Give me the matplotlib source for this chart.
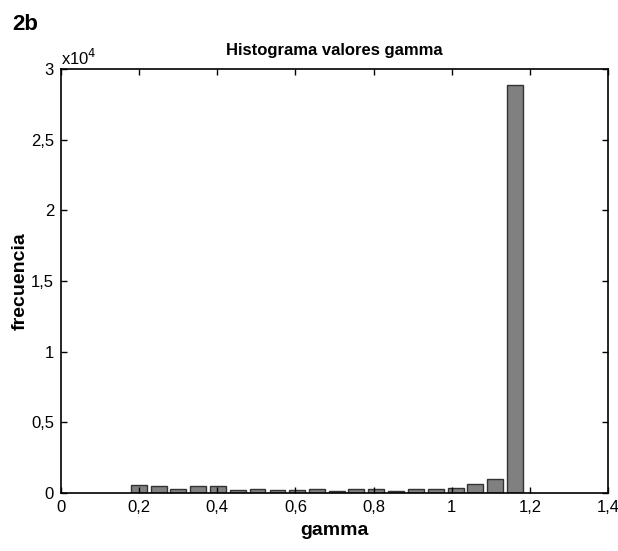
import matplotlib
matplotlib.use('Agg')
import matplotlib.pyplot as plt
from matplotlib.ticker import FuncFormatter

plt.rcParams['font.family'] = ['Liberation Sans', 'DejaVu Sans']

# centros de las clases del histograma (gamma) y frecuencias
gamma_centros = [0.199, 0.250, 0.300, 0.351, 0.402, 0.452, 0.503, 0.554, 0.604, 0.655,
                 0.706, 0.756, 0.807, 0.858, 0.908, 0.959, 1.010, 1.060, 1.111, 1.162]
frecuencia = [590, 495, 283, 519, 519, 236, 283, 236, 212, 270,
              175, 260, 307, 165, 260, 307, 354, 637, 991, 28900]
ancho_clase = 0.0507

x_ticks = [0, 0.2, 0.4, 0.6, 0.8, 1.0, 1.2, 1.4]
y_ticks = [0, 5000, 10000, 15000, 20000, 25000, 30000]


def coma(v, pos=None):
    s = ('%.2f' % v).rstrip('0').rstrip('.')
    return s.replace('.', ',')


fig = plt.figure(figsize=(6.18, 5.51), dpi=100)
ax = fig.add_axes([0.0987, 0.1053, 0.8851, 0.7695])

ax.bar(gamma_centros, frecuencia, width=ancho_clase * 0.8, color='#808080',
       edgecolor='#333333', linewidth=1.0)

ax.set_xlim(0, 1.4)
ax.set_ylim(0, 30000)
ax.set_xticks(x_ticks)
ax.set_yticks(y_ticks)
ax.xaxis.set_major_formatter(FuncFormatter(coma))
ax.yaxis.set_major_formatter(FuncFormatter(lambda v, p: coma(v / 1e4)))
ax.tick_params(direction='in', top=True, right=True, length=4, width=1,
               labelsize=12, colors='black', pad=5)
for sp in ax.spines.values():
    sp.set_linewidth(1.2)

ax.set_title('Histograma valores gamma', fontsize=12, fontweight='bold', pad=10)
ax.set_xlabel('gamma', fontsize=14, fontweight='bold', labelpad=5)
ax.set_ylabel('frecuencia', fontsize=14, fontweight='bold', labelpad=2)
ax.text(0.0, 1.003, r'x10$^{4}$', transform=ax.transAxes, fontsize=12,
        ha='left', va='bottom')
fig.text(0.02, 0.975, '2b', fontsize=16, fontweight='bold', ha='left', va='top')

fig.savefig('out.png', dpi=100)
